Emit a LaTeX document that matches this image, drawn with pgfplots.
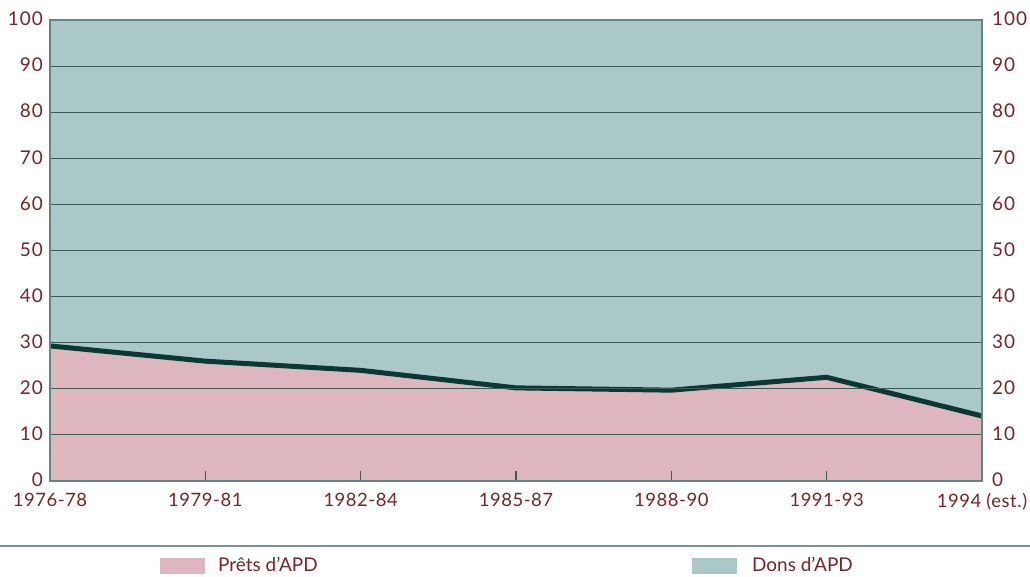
\documentclass[border=0pt]{standalone}
\usepackage{pgfplots}
\pgfplotsset{compat=1.18}
\usepackage{fontspec}
\setmainfont{Lato}
\definecolor{tealbg}{RGB}{170,200,200}
\definecolor{pinkfill}{RGB}{221,182,190}
\definecolor{gridcol}{RGB}{60,90,88}
\definecolor{bordercol}{RGB}{95,135,133}
\definecolor{linecol}{RGB}{12,56,52}
\definecolor{labred}{RGB}{120,35,38}
\definecolor{sepcol}{RGB}{120,150,150}
\begin{document}
\begin{tikzpicture}[x=1bp,y=1bp]
\path[use as bounding box] (0,0) rectangle (1030,577);
\begin{axis}[
  at={(50bp,96bp)}, anchor=south west,
  scale only axis, width=932bp, height=461bp,
  xmin=0, xmax=6, ymin=0, ymax=100,
  axis background/.style={fill=tealbg},
  axis on top,
  axis line style={draw=bordercol, line width=1.2bp},
  xtick={0,...,6},
  xticklabels={1976-78,1979-81,1982-84,1985-87,1988-90,1991-93,1994 (est.)},
  ytick={0,10,...,100},
  ymajorgrids, grid style={draw=gridcol, line width=1bp},
  tick align=inside, major tick length=10bp,
  xtick style={draw=gridcol, line width=1.2bp},
  ytick style={draw=none},
  xtick pos=bottom,
  /pgf/number format/assume math mode=true,
  x tick label style={font=\fontsize{18.5}{19}\selectfont\addfontfeatures{LetterSpace=3}, text=labred, inner sep=0pt, yshift=-12bp},
  y tick label style={font=\fontsize{19}{20}\selectfont\addfontfeatures{LetterSpace=5}, text=labred, inner sep=0pt, xshift=-7bp, yshift=1bp},
]
\addplot[fill=pinkfill, draw=none] coordinates {
  (0,29.3) (1,26) (2,24) (3,20.2) (4,19.7) (5,22.5) (6,14.1)
} \closedcycle;
\addplot[draw=linecol, line width=5bp] coordinates {
  (0,29.3) (1,26) (2,24) (3,20.2) (4,19.7) (5,22.5) (6,14.1)
};
\end{axis}
\begin{axis}[
  at={(50bp,96bp)}, anchor=south west,
  scale only axis, width=932bp, height=461bp,
  xmin=0, xmax=6, ymin=0, ymax=100,
  axis x line=none, axis y line*=right,
  y axis line style={draw=none},
  ytick={0,10,...,100},
  ytick style={draw=none},
  /pgf/number format/assume math mode=true,
  y tick label style={font=\fontsize{19}{20}\selectfont\addfontfeatures{LetterSpace=5}, text=labred, inner sep=0pt, xshift=10bp, yshift=1bp},
]
\end{axis}
\draw[sepcol, line width=2bp] (0,31) -- (1030,31);
\fill[pinkfill] (160,3) rectangle (205,19);
\node[anchor=base west, inner sep=0pt, text=labred, font=\fontsize{19}{20}\selectfont] at (218,5) {Prêts d'APD};
\fill[tealbg] (692,3) rectangle (737,19);
\node[anchor=base west, inner sep=0pt, text=labred, font=\fontsize{19}{20}\selectfont] at (752,5) {Dons d'APD};
\end{tikzpicture}
\end{document}
